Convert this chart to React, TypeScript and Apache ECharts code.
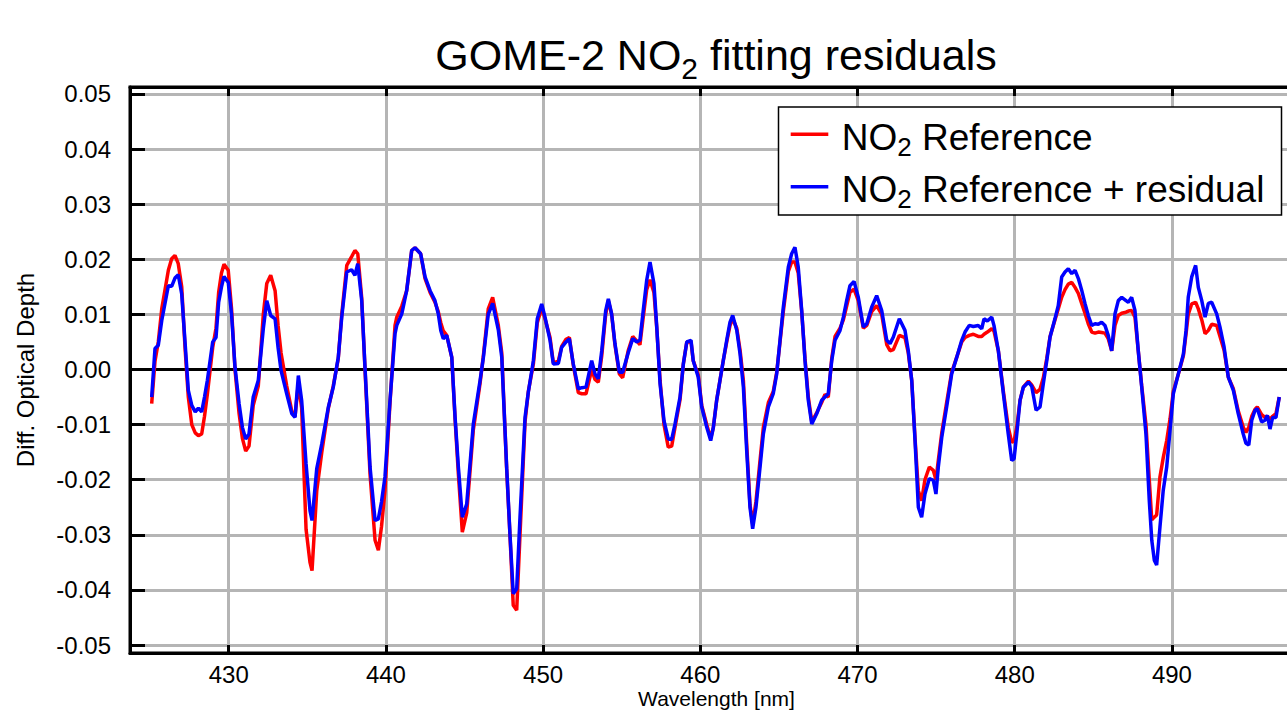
import React, { useEffect, useRef } from "react";
import * as echarts from "echarts";

// Wavelength grid [nm]
const wavelengthNm = [
  425.10, 425.31, 425.52, 425.74, 426.16, 426.37, 426.58, 426.79, 427.01, 427.22,
  427.43, 427.65, 427.87, 428.07, 428.28, 428.46, 428.64, 428.98, 429.19, 429.36,
  429.54, 429.70, 429.97, 430.18, 430.40, 430.66, 430.87, 431.08, 431.29, 431.56,
  431.88, 432.20, 432.42, 432.67, 432.95, 433.14, 433.33, 433.69, 434.01, 434.22,
  434.43, 434.64, 434.92, 435.17, 435.30, 435.60, 435.92, 436.34, 436.65, 436.97,
  437.19, 437.51, 437.82, 438.03, 438.21, 438.46, 438.67, 438.99, 439.31, 439.52,
  439.72, 439.94, 440.26, 440.58, 440.69, 441.01, 441.32, 441.64, 441.85, 442.21,
  442.49, 442.81, 443.12, 443.33, 443.49, 443.65, 443.87, 444.19, 444.40, 444.61,
  444.86, 445.14, 445.56, 445.99, 446.20, 446.51, 446.79, 447.15, 447.37, 447.68,
  447.89, 448.10, 448.32, 448.53, 448.85, 449.06, 449.38, 449.63, 449.91, 450.12,
  450.44, 450.65, 450.97, 451.18, 451.46, 451.67, 451.92, 452.24, 452.46, 452.73,
  453.09, 453.30, 453.51, 453.73, 453.98, 454.15, 454.36, 454.57, 454.85, 455.06,
  455.42, 455.70, 455.95, 456.16, 456.37, 456.59, 456.80, 457.05, 457.23, 457.44,
  457.69, 457.96, 458.18, 458.39, 458.71, 458.92, 459.14, 459.41, 459.55, 459.87,
  460.09, 460.41, 460.66, 460.83, 461.04, 461.25, 461.46, 461.68, 461.89, 462.06,
  462.32, 462.53, 462.74, 462.95, 463.16, 463.33, 463.54, 463.80, 464.01, 464.33,
  464.64, 464.86, 465.07, 465.28, 465.60, 465.81, 466.02, 466.23, 466.45, 466.66,
  466.87, 467.09, 467.41, 467.72, 467.93, 468.14, 468.36, 468.57, 468.89, 469.10,
  469.31, 469.52, 469.78, 470.05, 470.37, 470.59, 470.90, 471.22, 471.54, 471.86,
  472.07, 472.28, 472.66, 473.02, 473.23, 473.45, 473.66, 473.87, 474.08, 474.29,
  474.57, 474.82, 474.99, 475.14, 475.36, 475.67, 475.99, 476.31, 476.63, 476.84,
  477.11, 477.37, 477.68, 477.90, 478.05, 478.26, 478.54, 478.68, 478.96, 479.28,
  479.59, 479.81, 479.96, 480.13, 480.34, 480.55, 480.87, 481.08, 481.36, 481.61,
  481.82, 482.04, 482.25, 482.56, 482.77, 482.99, 483.20, 483.41, 483.63, 483.84,
  484.05, 484.26, 484.47, 484.68, 484.90, 485.11, 485.32, 485.53, 485.74, 485.95,
  486.17, 486.38, 486.59, 486.81, 487.08, 487.23, 487.44, 487.65, 487.86, 488.08,
  488.35, 488.56, 488.72, 488.88, 489.03, 489.24, 489.45, 489.67, 489.88, 490.09,
  490.41, 490.73, 490.90, 491.04, 491.26, 491.51, 491.68, 491.90, 492.11, 492.32,
  492.53, 492.85, 493.06, 493.32, 493.59, 493.91, 494.22, 494.54, 494.71, 494.89,
  495.08, 495.29, 495.43, 495.71, 495.92, 496.07, 496.24, 496.41, 496.62, 496.83,
];

// NO2 Reference (red)
const no2Reference = [
  -0.0062, 0.0015, 0.0050, 0.0110, 0.0180, 0.0201, 0.0207, 0.0192, 0.0150, 0.0040,
  -0.0050, -0.0100, -0.0115, -0.0120, -0.0117, -0.0085, -0.0045, 0.0040, 0.0075, 0.0140,
  0.0175, 0.0191, 0.0180, 0.0110, 0.0000, -0.0080, -0.0125, -0.0148, -0.0139, -0.0065,
  -0.0030, 0.0100, 0.0156, 0.0171, 0.0143, 0.0080, 0.0030, -0.0030, -0.0075, -0.0085,
  -0.0025, -0.0070, -0.0290, -0.0350, -0.0365, -0.0220, -0.0150, -0.0070, -0.0030, 0.0020,
  0.0100, 0.0189, 0.0205, 0.0216, 0.0210, 0.0130, 0.0000, -0.0190, -0.0310, -0.0328,
  -0.0285, -0.0220, -0.0060, 0.0080, 0.0095, 0.0115, 0.0143, 0.0216, 0.0221, 0.0210,
  0.0165, 0.0140, 0.0122, 0.0105, 0.0085, 0.0070, 0.0062, 0.0022, -0.0090, -0.0190,
  -0.0295, -0.0260, -0.0110, -0.0025, 0.0025, 0.0110, 0.0131, 0.0080, 0.0030, -0.0180,
  -0.0300, -0.0428, -0.0437, -0.0300, -0.0095, -0.0040, 0.0010, 0.0085, 0.0112, 0.0092,
  0.0058, 0.0012, 0.0015, 0.0042, 0.0055, 0.0058, 0.0008, -0.0042, -0.0044, -0.0044,
  0.0000, -0.0018, -0.0023, 0.0025, 0.0100, 0.0125, 0.0100, 0.0045, -0.0008, -0.0015,
  0.0035, 0.0060, 0.0052, 0.0045, 0.0095, 0.0145, 0.0163, 0.0140, 0.0075, -0.0020,
  -0.0100, -0.0141, -0.0139, -0.0105, -0.0055, 0.0010, 0.0050, 0.0050, 0.0016, -0.0010,
  -0.0065, -0.0100, -0.0125, -0.0105, -0.0056, -0.0020, 0.0016, 0.0050, 0.0080, 0.0092,
  0.0075, 0.0035, -0.0020, -0.0135, -0.0245, -0.0280, -0.0240, -0.0165, -0.0105, -0.0060,
  -0.0040, -0.0005, 0.0050, 0.0105, 0.0178, 0.0195, 0.0195, 0.0175, 0.0105, 0.0020,
  -0.0050, -0.0095, -0.0078, -0.0060, -0.0045, -0.0050, 0.0020, 0.0060, 0.0075, 0.0090,
  0.0115, 0.0140, 0.0146, 0.0125, 0.0075, 0.0080, 0.0105, 0.0116, 0.0100, 0.0045,
  0.0034, 0.0036, 0.0062, 0.0058, 0.0030, -0.0020, -0.0125, -0.0220, -0.0238, -0.0200,
  -0.0177, -0.0183, -0.0200, -0.0165, -0.0115, -0.0060, -0.0005, 0.0022, 0.0050, 0.0058,
  0.0062, 0.0064, 0.0060, 0.0060, 0.0064, 0.0068, 0.0074, 0.0070, 0.0034, -0.0040,
  -0.0105, -0.0132, -0.0130, -0.0105, -0.0056, -0.0032, -0.0021, -0.0028, -0.0042, -0.0036,
  -0.0015, 0.0020, 0.0060, 0.0090, 0.0110, 0.0131, 0.0145, 0.0155, 0.0158, 0.0149,
  0.0138, 0.0120, 0.0102, 0.0083, 0.0068, 0.0066, 0.0068, 0.0067, 0.0066, 0.0056,
  0.0034, 0.0080, 0.0098, 0.0102, 0.0104, 0.0106, 0.0107, 0.0095, 0.0034, -0.0030,
  -0.0100, -0.0200, -0.0273, -0.0268, -0.0264, -0.0195, -0.0160, -0.0129, -0.0090, -0.0040,
  -0.0008, 0.0025, 0.0065, 0.0100, 0.0119, 0.0122, 0.0110, 0.0090, 0.0065, 0.0071,
  0.0082, 0.0080, 0.0060, 0.0035, -0.0014, -0.0035, -0.0075, -0.0105, -0.0114, -0.0105,
  -0.0085, -0.0072, -0.0068, -0.0082, -0.0087, -0.0085, -0.0090, -0.0085, -0.0080, -0.0050,
];

// NO2 Reference + residual (blue)
const no2ReferencePlusResidual = [
  -0.0050, 0.0038, 0.0044, 0.0089, 0.0152, 0.0151, 0.0166, 0.0172, 0.0137, 0.0050,
  -0.0038, -0.0065, -0.0077, -0.0070, -0.0077, -0.0050, -0.0020, 0.0050, 0.0058, 0.0122,
  0.0150, 0.0169, 0.0158, 0.0100, 0.0004, -0.0062, -0.0105, -0.0126, -0.0117, -0.0050,
  -0.0020, 0.0074, 0.0125, 0.0098, 0.0092, 0.0040, -0.0002, -0.0044, -0.0080, -0.0087,
  -0.0011, -0.0056, -0.0171, -0.0256, -0.0274, -0.0180, -0.0135, -0.0068, -0.0032, 0.0022,
  0.0095, 0.0177, 0.0181, 0.0171, 0.0192, 0.0125, 0.0004, -0.0177, -0.0274, -0.0271,
  -0.0240, -0.0195, -0.0056, 0.0065, 0.0080, 0.0101, 0.0143, 0.0216, 0.0221, 0.0210,
  0.0168, 0.0143, 0.0125, 0.0101, 0.0071, 0.0056, 0.0062, 0.0022, -0.0087, -0.0177,
  -0.0268, -0.0244, -0.0099, -0.0020, 0.0022, 0.0100, 0.0120, 0.0072, 0.0022, -0.0177,
  -0.0298, -0.0407, -0.0398, -0.0268, -0.0087, -0.0041, 0.0016, 0.0092, 0.0119, 0.0095,
  0.0053, 0.0010, 0.0011, 0.0040, 0.0050, 0.0056, 0.0010, -0.0035, -0.0033, -0.0032,
  0.0016, -0.0008, -0.0017, 0.0034, 0.0107, 0.0128, 0.0101, 0.0047, -0.0005, -0.0005,
  0.0031, 0.0056, 0.0050, 0.0053, 0.0107, 0.0162, 0.0195, 0.0156, 0.0077, -0.0026,
  -0.0093, -0.0126, -0.0127, -0.0099, -0.0050, 0.0010, 0.0050, 0.0053, 0.0016, -0.0014,
  -0.0068, -0.0105, -0.0129, -0.0105, -0.0056, -0.0020, 0.0016, 0.0053, 0.0086, 0.0098,
  0.0071, 0.0028, -0.0032, -0.0147, -0.0250, -0.0289, -0.0250, -0.0177, -0.0117, -0.0068,
  -0.0044, -0.0008, 0.0053, 0.0113, 0.0186, 0.0210, 0.0222, 0.0186, 0.0107, 0.0016,
  -0.0056, -0.0099, -0.0080, -0.0056, -0.0050, -0.0044, 0.0016, 0.0053, 0.0071, 0.0095,
  0.0125, 0.0152, 0.0160, 0.0131, 0.0077, 0.0083, 0.0113, 0.0134, 0.0107, 0.0053,
  0.0047, 0.0059, 0.0092, 0.0071, 0.0034, -0.0020, -0.0129, -0.0250, -0.0268, -0.0226,
  -0.0198, -0.0201, -0.0226, -0.0177, -0.0123, -0.0068, -0.0008, 0.0022, 0.0053, 0.0068,
  0.0080, 0.0078, 0.0080, 0.0074, 0.0092, 0.0088, 0.0095, 0.0080, 0.0034, -0.0044,
  -0.0117, -0.0165, -0.0162, -0.0117, -0.0056, -0.0032, -0.0023, -0.0030, -0.0074, -0.0068,
  -0.0026, 0.0016, 0.0059, 0.0092, 0.0116, 0.0168, 0.0177, 0.0183, 0.0174, 0.0180,
  0.0165, 0.0144, 0.0120, 0.0098, 0.0080, 0.0083, 0.0082, 0.0086, 0.0080, 0.0062,
  0.0034, 0.0101, 0.0125, 0.0131, 0.0125, 0.0122, 0.0131, 0.0107, 0.0034, -0.0032,
  -0.0117, -0.0237, -0.0310, -0.0346, -0.0355, -0.0286, -0.0219, -0.0177, -0.0111, -0.0044,
  -0.0008, 0.0028, 0.0071, 0.0131, 0.0168, 0.0189, 0.0149, 0.0125, 0.0095, 0.0120,
  0.0122, 0.0101, 0.0077, 0.0041, -0.0014, -0.0038, -0.0080, -0.0117, -0.0134, -0.0137,
  -0.0092, -0.0074, -0.0071, -0.0095, -0.0092, -0.0083, -0.0108, -0.0087, -0.0087, -0.0050,
];

const xTickValues = [430, 440, 450, 460, 470, 480, 490];
const yTickValues = [-0.05, -0.04, -0.03, -0.02, -0.01, 0, 0.01, 0.02, 0.03, 0.04, 0.05];

const titleMain = "GOME-2 NO";
const titleSub = "2";
const titleRest = " fitting residuals";
const legendNames = ["NO2 Reference", "NO2 Reference + residual"];

const FONT = "'Liberation Sans', Arial, Helvetica, sans-serif";

export default function App() {
  const ref = useRef<HTMLDivElement>(null);

  useEffect(() => {
    document.body.style.margin = "0";
    const chart = echarts.init(ref.current!, null, { renderer: "svg" });

    const refData = wavelengthNm.map((w, i) => [w, no2Reference[i]]);
    const resData = wavelengthNm.map((w, i) => [w, no2ReferencePlusResidual[i]]);

    const xMin = 423.72;
    const xMax = 498.34;

    const legendRich = {
      m: { fontSize: 37, lineHeight: 46, fontFamily: FONT, fill: "#000", verticalAlign: "middle" },
      s: { fontSize: 26, fontFamily: FONT, fill: "#000", verticalAlign: "bottom" },
    };

    const option: any = {
      animation: false,
      backgroundColor: "#ffffff",
      textStyle: { fontFamily: FONT },
      grid: {
        left: 130,
        top: 87,
        width: 1173,
        height: 566,
        outerBoundsMode: "none",
        containLabel: false,
        show: true,
        borderColor: "#000",
        borderWidth: 3,
        backgroundColor: "transparent",
      },
      xAxis: [
        {
          type: "value",
          position: "bottom",
          min: xMin,
          max: xMax,
          name: "Wavelength [nm]",
          nameLocation: "middle",
          nameGap: 35,
          nameMoveOverlap: false,
          nameTextStyle: { fontSize: 21, lineHeight: 21, color: "#000", fontFamily: FONT },
          axisLine: { show: true, onZero: false, lineStyle: { color: "#000", width: 3 } },
          axisTick: {
            show: true,
            inside: true,
            length: 8,
            customValues: xTickValues,
            lineStyle: { color: "#000", width: 3 },
          },
          axisLabel: {
            show: true,
            customValues: xTickValues,
            fontSize: 24,
            lineHeight: 24,
            color: "#000",
            margin: 9,
            fontFamily: FONT,
            formatter: (v: number) => String(Math.round(v)),
          },
          splitLine: { show: true, lineStyle: { color: "#b5b5b5", width: 3 } },
        },
        {
          type: "value",
          position: "top",
          min: xMin,
          max: xMax,
          axisLine: { show: true, onZero: false, lineStyle: { color: "#000", width: 3 } },
          axisTick: {
            show: true,
            inside: true,
            length: 9,
            customValues: xTickValues,
            lineStyle: { color: "#000", width: 3 },
          },
          axisLabel: { show: false },
          splitLine: { show: false },
        },
      ],
      yAxis: {
        type: "value",
        min: -0.05145,
        max: 0.05127,
        name: "Diff. Optical Depth",
        nameLocation: "middle",
        nameRotate: 90,
        nameGap: 93,
        nameTextStyle: { fontSize: 24, color: "#000", fontFamily: FONT },
        axisLine: { show: true, onZero: false, lineStyle: { color: "#000", width: 3 } },
        axisTick: {
          show: true,
          inside: true,
          length: 15,
          customValues: yTickValues,
          lineStyle: { color: "#000", width: 3 },
        },
        axisLabel: {
          show: true,
          customValues: yTickValues,
          fontSize: 24,
          color: "#000",
          margin: 19,
          fontFamily: FONT,
          formatter: (v: number) => v.toFixed(2),
        },
        splitLine: { show: true, lineStyle: { color: "#b5b5b5", width: 3 } },
      },
      series: [
        {
          name: legendNames[0],
          type: "line",
          data: refData,
          showSymbol: false,
          symbol: "none",
          lineStyle: { color: "#ff0000", width: 3.5 },
          itemStyle: { color: "#ff0000" },
          z: 3,
          markLine: {
            silent: true,
            symbol: ["none", "none"],
            z: 1,
            label: { show: false },
            lineStyle: { color: "#000", width: 3, type: "solid" },
            data: [{ yAxis: 0 }],
          },
        },
        {
          name: legendNames[1],
          type: "line",
          data: resData,
          showSymbol: false,
          symbol: "none",
          lineStyle: { color: "#0000ff", width: 3.5 },
          itemStyle: { color: "#0000ff" },
          z: 4,
        },
      ],
      graphic: [
        {
          type: "text",
          x: 716,
          y: 55,
          style: {
            text: `{m|${titleMain}}{s|${titleSub}}{m|${titleRest}}`,
            align: "center",
            verticalAlign: "middle",
            fill: "#000",
            rich: {
              m: { fontSize: 43, lineHeight: 56, fontFamily: FONT, fill: "#000", verticalAlign: "middle" },
              s: { fontSize: 30, fontFamily: FONT, fill: "#000", verticalAlign: "bottom" },
            },
          },
          z: 10,
        },
        {
          type: "group",
          z: 20,
          children: [
            {
              type: "rect",
              shape: { x: 778.5, y: 107, width: 503, height: 108 },
              style: { fill: "#fff", stroke: "#000", lineWidth: 1.5 },
              z: 20,
            },
            {
              type: "line",
              shape: { x1: 790.7, y1: 134.3, x2: 828.3, y2: 134.3 },
              style: { stroke: "#ff0000", lineWidth: 3.5 },
              z: 21,
            },
            {
              type: "text",
              x: 841.7,
              y: 137,
              style: {
                text: "{m|NO}{s|2}{m| Reference}",
                align: "left",
                verticalAlign: "middle",
                rich: legendRich,
              },
              z: 21,
            },
            {
              type: "line",
              shape: { x1: 790.7, y1: 186.7, x2: 828.3, y2: 186.7 },
              style: { stroke: "#0000ff", lineWidth: 3.5 },
              z: 21,
            },
            {
              type: "text",
              x: 841.7,
              y: 189,
              style: {
                text: "{m|NO}{s|2}{m| Reference + residual}",
                align: "left",
                verticalAlign: "middle",
                rich: legendRich,
              },
              z: 21,
            },
          ],
        },
      ],
    };

    chart.setOption(option);
    return () => chart.dispose();
  }, []);

  return (
    <div
      ref={ref}
      style={{ position: "fixed", left: 0, top: 0, width: 1287, height: 710, background: "#fff" }}
    />
  );
}
